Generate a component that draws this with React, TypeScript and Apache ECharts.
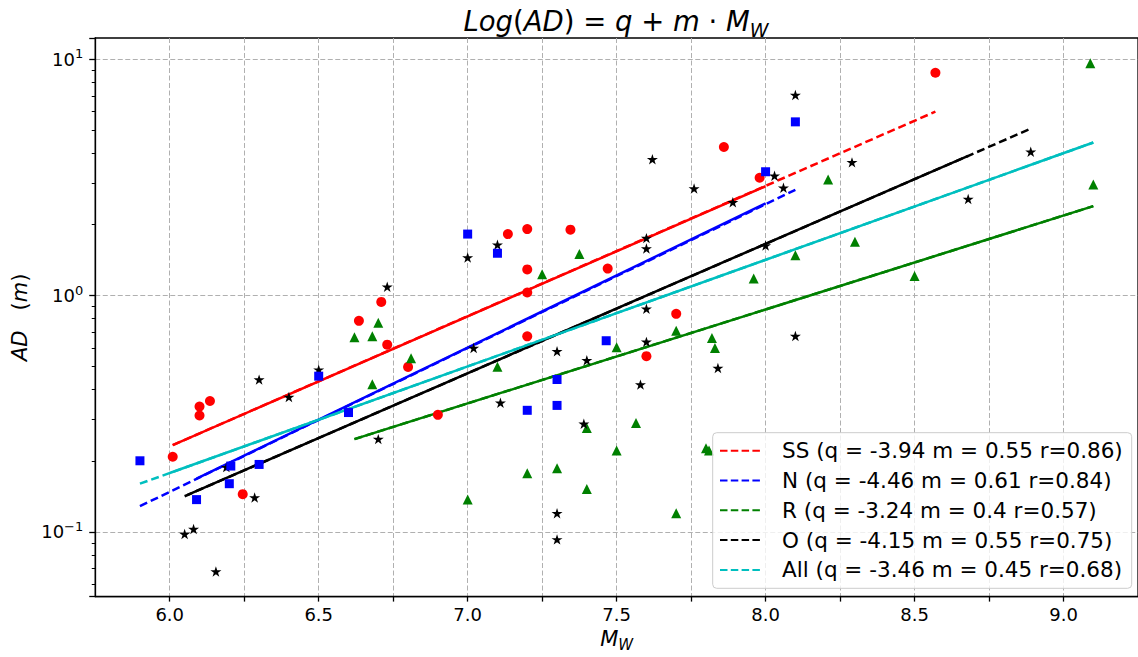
import React, { useEffect, useRef } from "react";
import * as echarts from "echarts";

// ---- data (Mw, AD in metres) ----
const ssPoints: [number, number][] = [
  [6.01, 0.208], [6.1, 0.339], [6.1, 0.311], [6.135, 0.358], [6.245, 0.1445],
  [6.635, 0.782], [6.71, 0.94], [6.73, 0.62], [6.8, 0.499], [6.9, 0.313],
  [7.135, 1.82], [7.2, 1.91], [7.2, 1.29], [7.2, 1.03], [7.2, 0.672],
  [7.345, 1.9], [7.47, 1.3], [7.6, 0.554], [7.7, 0.837], [7.86, 4.25],
  [7.98, 3.15], [8.57, 8.76],
];
const nPoints: [number, number][] = [
  [5.9, 0.2], [6.09, 0.137], [6.2, 0.16], [6.205, 0.19], [6.3, 0.193],
  [6.5, 0.456], [6.6, 0.32], [7.0, 1.82], [7.1, 1.51], [7.2, 0.327],
  [7.3, 0.4415], [7.3, 0.343], [7.465, 0.644], [8.0, 3.34], [8.1, 5.43],
];
const rPoints: [number, number][] = [
  [6.62, 0.666], [6.68, 0.672], [6.7, 0.767], [6.68, 0.421], [6.81, 0.543],
  [7.0, 0.137], [7.1, 0.5], [7.2, 0.177], [7.25, 1.23], [7.3, 0.186],
  [7.375, 1.5], [7.4, 0.275], [7.4, 0.152], [7.5, 0.604], [7.5, 0.221],
  [7.565, 0.289], [7.7, 0.71], [7.7, 0.12], [7.8, 0.226], [7.81, 0.221],
  [7.82, 0.661], [7.83, 0.6], [7.96, 1.18], [8.1, 1.48], [8.21, 3.1],
  [8.3, 1.69], [8.5, 1.21], [9.09, 9.6], [9.1, 2.95],
];
const oPoints: [number, number][] = [
  [6.05, 0.098], [6.08, 0.103], [6.155, 0.068], [6.19, 0.188], [6.285, 0.14],
  [6.3, 0.441], [6.4, 0.372], [6.5, 0.486], [6.7, 0.247], [6.73, 1.09],
  [7.0, 1.45], [7.02, 0.6], [7.1, 1.64], [7.11, 0.352], [7.3, 0.581],
  [7.3, 0.12], [7.3, 0.093], [7.39, 0.287], [7.4, 0.533], [7.58, 0.42],
  [7.6, 1.75], [7.6, 1.58], [7.6, 0.88], [7.6, 0.637], [7.62, 3.77],
  [7.76, 2.84], [7.84, 0.494], [7.89, 2.48], [8.0, 1.63], [8.03, 3.21],
  [8.06, 2.86], [8.1, 7.05], [8.1, 0.675], [8.29, 3.66], [8.68, 2.56],
  [8.89, 4.06],
];

// regression lines: dashed over the full span, solid over the inner span
const ssDashed: [number, number][] = [[6.01, 0.233], [8.57, 6.0]];
const ssSolid: [number, number][] = [[6.01, 0.233], [8.0, 2.9]];
const nDashed: [number, number][] = [[5.9, 0.1285], [8.1, 2.8]];
const nSolid: [number, number][] = [[6.09, 0.168], [8.0, 2.455]];
const rDashed: [number, number][] = [[6.62, 0.247], [9.1, 2.39]];
const rSolid: [number, number][] = [[6.62, 0.247], [9.1, 2.39]];
const oDashed: [number, number][] = [[6.05, 0.1416], [8.89, 5.08]];
const oSolid: [number, number][] = [[6.06, 0.1435], [8.68, 3.9]];
const allDashed: [number, number][] = [[5.9, 0.16], [9.1, 4.44]];
const allSolid: [number, number][] = [[6.0, 0.1775], [9.1, 4.44]];

const legendNames = [
  "SS (q = -3.94 m = 0.55 r=0.86)",
  "N (q = -4.46 m = 0.61 r=0.84)",
  "R (q = -3.24 m = 0.4 r=0.57)",
  "O (q = -4.15 m = 0.55 r=0.75)",
  "All (q = -3.46 m = 0.45 r=0.68)",
];
const lineColors = ["#ff0000", "#0000ff", "#008000", "#000000", "#00bfbf"];

const FONT = "DejaVu Sans";
const STAR =
  "path://M50,0L61.2,34.5L97.6,34.5L68.2,55.9L79.4,90.5L50,69.1L20.6,90.5L31.8,55.9L2.4,34.5L38.8,34.5Z";

export default function App() {
  const ref = useRef<HTMLDivElement>(null);
  useEffect(() => {
    document.body.style.margin = "0";
    const chart = echarts.init(ref.current!, undefined, { renderer: "svg" });
    const dashedSets = [ssDashed, nDashed, rDashed, oDashed, allDashed];
    const solidSets = [ssSolid, nSolid, rSolid, oSolid, allSolid];
    const lineSeries: any[] = [];
    dashedSets.forEach((d, i) => {
      lineSeries.push({
        type: "line",
        name: legendNames[i],
        data: d,
        symbol: "none",
        lineStyle: { color: lineColors[i], width: 2.5, type: [8, 4] },
        itemStyle: { color: lineColors[i] },
        z: 2,
      });
    });
    solidSets.forEach((d, i) => {
      lineSeries.push({
        type: "line",
        name: legendNames[i] + " fit",
        data: d,
        symbol: "none",
        lineStyle: { color: lineColors[i], width: 2.5, type: "solid" },
        itemStyle: { color: lineColors[i] },
        z: 3,
      });
    });
    const scat = (name: string, data: any, color: string, symbol: string, size: number) => ({
      type: "scatter",
      name,
      data,
      symbol,
      symbolSize: size,
      symbolKeepAspect: true,
      itemStyle: { color, opacity: 1 },
      z: 4,
    });

    const lgX = 712.7, lgY = 432.7, lgW = 419, lgH = 155.6;
    const rowY0 = 450.7, rowStep = 29.8;
    const legendGraphics: any[] = [
      {
        type: "rect",
        shape: { x: lgX, y: lgY, width: lgW, height: lgH, r: 4 },
        style: { fill: "rgba(255,255,255,0.8)", stroke: "#cccccc", lineWidth: 1 },
        z: 20,
      },
    ];
    legendNames.forEach((name, i) => {
      const y = rowY0 + i * rowStep;
      legendGraphics.push({
        type: "line",
        shape: { x1: 720, y1: y, x2: 763, y2: y },
        style: { stroke: lineColors[i], lineWidth: 2, lineDash: [7.5, 3.3] },
        z: 21,
      });
      legendGraphics.push({
        type: "text",
        x: 782,
        y,
        z: 21,
        style: {
          text: name,
          fontFamily: FONT,
          fontSize: 21.5,
          fill: "#000",
          align: "left",
          verticalAlign: "middle",
        },
      });
    });

    const option: any = {
      animation: false,
      grid: {
        left: 95.25,
        top: 38,
        width: 1046.5,
        height: 562,
        show: true,
        borderColor: "#000",
        borderWidth: 1.3,
        backgroundColor: "transparent",
      },
      xAxis: {
        type: "value",
        min: 5.75,
        max: 9.25,
        interval: 0.25,
        axisLine: { show: true, lineStyle: { color: "#000", width: 1.3 } },
        axisTick: { show: true, length: 5, lineStyle: { color: "#000", width: 1.3 } },
        axisLabel: {
          margin: 9,
          fontFamily: FONT,
          fontSize: 18,
          color: "#000",
          showMinLabel: false,
          showMaxLabel: false,
          formatter: (v: number) =>
            Math.abs(v * 2 - Math.round(v * 2)) < 1e-6 ? v.toFixed(1) : "",
        },
        splitLine: {
          show: true,
          showMinLine: false,
          showMaxLine: false,
          lineStyle: { color: "#b0b0b0", width: 1, type: [5, 2.5] },
        },
        name: "{i|M}{s|W}",
        nameLocation: "middle",
        nameGap: 28,
        nameTextStyle: {
          rich: {
            i: { fontFamily: FONT, fontStyle: "italic", fontSize: 21, color: "#000", lineHeight: 26 },
            s: { fontFamily: FONT, fontStyle: "italic", fontSize: 15, color: "#000", lineHeight: 15, verticalAlign: "bottom" },
          },
        },
      },
      yAxis: {
        type: "log",
        logBase: 10,
        min: 0.05327,
        max: 12.29,
        axisLine: { show: true, lineStyle: { color: "#000", width: 1.3 } },
        axisTick: { show: true, length: 6, lineStyle: { color: "#000", width: 1.3 } },
        minorTick: { show: true, splitNumber: 9, length: 3.5, lineStyle: { color: "#000", width: 1 } },
        axisLabel: {
          margin: 12,
          showMinLabel: false,
          showMaxLabel: false,
          formatter: (v: number) => {
            const e = Math.round(Math.log10(v));
            const s = e < 0 ? "\u2212" + -e : "" + e;
            return "{b|10}{s|" + s + "}";
          },
          rich: {
            b: { fontFamily: FONT, fontSize: 18, color: "#000", lineHeight: 24 },
            s: { fontFamily: FONT, fontSize: 13, color: "#000", lineHeight: 13, verticalAlign: "top" },
          },
        },
        splitLine: {
          show: true,
          showMinLine: false,
          showMaxLine: false,
          lineStyle: { color: "#b0b0b0", width: 1, type: [5, 2.5] },
        },
        name: "{i|AD}{r|   (}{i|m}{r|)}",
        nameLocation: "middle",
        nameGap: 60,
        nameTextStyle: {
          rich: {
            i: { fontFamily: FONT, fontStyle: "italic", fontSize: 21, color: "#000", lineHeight: 26 },
            r: { fontFamily: FONT, fontSize: 21, color: "#000", lineHeight: 26 },
          },
        },
      },
      graphic: [
        {
          type: "text",
          x: 616,
          y: 21,
          z: 10,
          style: {
            text: "{i|Log}{r|(}{i|AD}{r|) = }{i|q}{r| + }{i|m}{r| \u00b7 }{i|M}{s|W}",
            align: "center",
            verticalAlign: "middle",
            rich: {
              i: { fontFamily: FONT, fontStyle: "italic", fontSize: 27.5, fill: "#000", lineHeight: 36 },
              r: { fontFamily: FONT, fontSize: 27.5, fill: "#000", lineHeight: 36 },
              s: { fontFamily: FONT, fontStyle: "italic", fontSize: 19, fill: "#000", lineHeight: 19, verticalAlign: "bottom" },
            },
          },
        },
        ...legendGraphics,
      ],
      series: [
        ...lineSeries,
        scat("SS data", ssPoints, "#ff0000", "circle", 10),
        scat("R data", rPoints, "#008000", "triangle", 10),
        scat("O data", oPoints, "#000000", STAR, 11),
        scat("N data", nPoints, "#0000ff", "rect", 9),
      ],
    };
    chart.setOption(option);
    return () => chart.dispose();
  }, []);
  return <div ref={ref} style={{ width: 1138, height: 657 }} />;
}
